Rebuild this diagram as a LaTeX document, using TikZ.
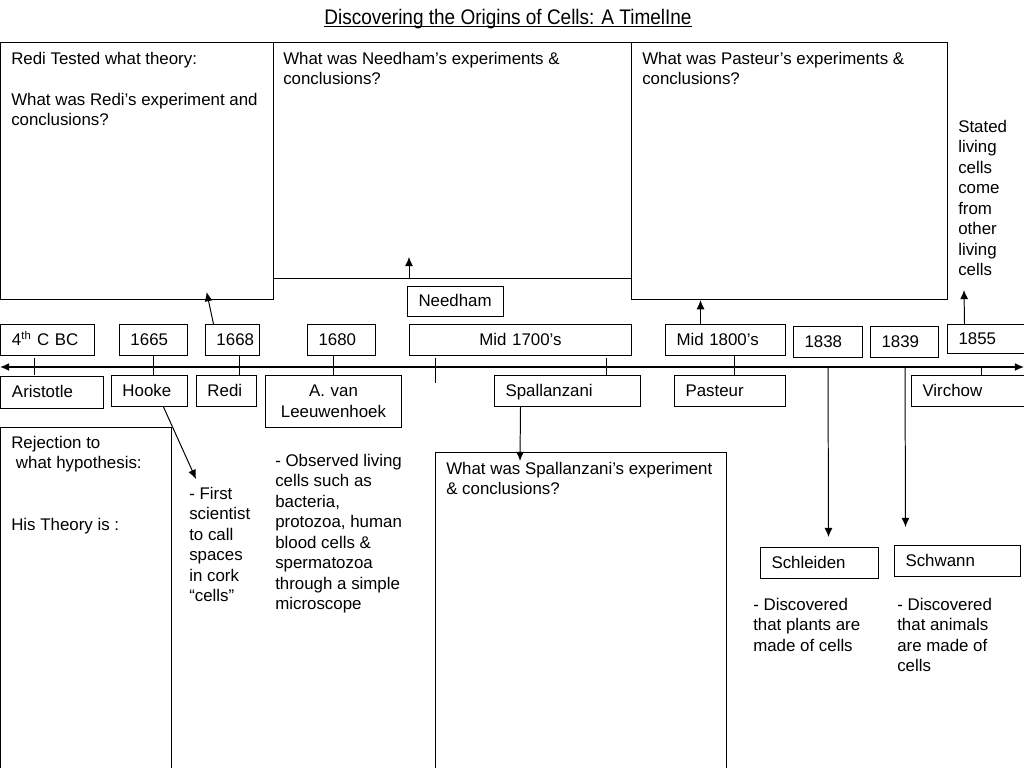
\documentclass[tikz,border=0pt]{standalone}
\usepackage{fontspec}
\setmainfont{Liberation Sans}
\newfontfamily\titlefont[FakeStretch=0.9]{Liberation Sans}
\usepackage{tikz}
\usetikzlibrary{arrows.meta}
\newcommand{\bodyfont}{\fontsize{12}{14.6}\selectfont}
\tikzset{
    boxdraw/.style={draw, line width=0.7pt, font=\bodyfont, anchor=north west, inner ysep=0pt, inner xsep=0.275cm, align=left},
    yearnode/.style={boxdraw, minimum height=0.775cm, text height=0.97em, text depth=0.21em},
    namenode/.style={boxdraw, minimum height=0.775cm, text height=0.97em, text depth=0.21em},
    questionbox/.style={draw, line width=0.7pt, anchor=north west, inner sep=0pt},
    notetext/.style={anchor=north west, inner sep=0pt, align=left, font=\bodyfont},
    linkarrow/.style={-{Latex[length=2.3mm,width=2mm]}, line width=0.7pt},
    timearrow/.style={{Latex[length=2.3mm,width=2mm]}-{Latex[length=2.3mm,width=2mm]}, line width=0.9pt},
    ticksty/.style={line width=0.7pt}
}
\begin{document}
\begin{tikzpicture}[x=0.025cm, y=-0.025cm]
    \useasboundingbox (0,0) rectangle (1024,768);

    % title
    \node[anchor=base, inner sep=0pt, font=\titlefont\fontsize{15}{18}\selectfont] (title) at (508,24.5) {Discovering the Origins of Cells: A TimelIne};
    \draw[line width=0.7pt] ([yshift=-1.6pt]title.base west) -- ([yshift=-1.6pt]title.base east);

    % question boxes
    \node[questionbox, minimum width=6.8cm, minimum height=6.425cm] (rediq) at (0.5,42) {};
    \node[questionbox, minimum width=8.95cm, minimum height=5.9cm] (needq) at (273,42) {};
    \node[questionbox, minimum width=7.9cm, minimum height=6.425cm] (pastq) at (631,42) {};
    \node[questionbox, minimum width=4.26cm, minimum height=8.7cm] (rejq) at (0.5,427) {};
    \node[questionbox, minimum width=7.275cm, minimum height=8.2cm] (spalq) at (435,452) {};

    \node[notetext] (rediqtext) at (11,51.7) {Redi Tested what theory:\\[14.6pt]What was Redi’s experiment and\\conclusions?};
    \node[notetext] (needqtext) at (283,51.7) {What was Needham’s experiments \&\\conclusions?};
    \node[notetext] (pastqtext) at (642,51.7) {What was Pasteur’s experiments \&\\conclusions?};
    \node[notetext] (rejtext) at (11,435.7) {Rejection to\\\ what hypothesis:\\[29.2pt]His Theory is :};
    \node[notetext] (spalqtext) at (446,461.7) {What was Spallanzani’s experiment\\\& conclusions?};
    \node[notetext] (stated) at (958,119.7) {Stated\\living\\cells\\come\\from\\other\\living\\cells};

    % dates above the line
    \node[yearnode, text width=1.775cm] (y4c) at (0.5,324) {4\textsuperscript{th} C BC};
    \node[yearnode, text width=1.15cm] (y1665) at (119,324) {1665};
    \node[yearnode, text width=0.8cm] (y1668) at (205,324) {1668};
    \node[yearnode, text width=1.15cm] (y1680) at (307,324) {1680};
    \node[yearnode, text width=5cm, align=center] (mid17) at (409,324) {Mid 1700’s};
    \node[yearnode, text width=2.45cm] (mid18) at (665,324) {Mid 1800’s};
    \node[yearnode, text width=1.175cm] (y1838) at (793,326) {1838};
    \node[yearnode, text width=1.15cm] (y1839) at (870,326) {1839};
    \node[yearnode, text width=1.375cm, minimum height=0.725cm] (y1855) at (947,324) {1855};
    \node[namenode, text width=1.85cm, minimum height=0.75cm] (needham) at (407,286) {Needham};

    % scientists below the line
    \node[namenode, text width=2cm, minimum height=0.8cm] (aristotle) at (0.5,376) {Aristotle};
    \node[namenode, text width=1.35cm] (hooke) at (111,375) {Hooke};
    \node[namenode, text width=0.95cm] (redi) at (196,375) {Redi};
    \node[boxdraw, text width=2.85cm, align=center, minimum height=1.3cm] (leeuw) at (265,375) {A. van\\Leeuwenhoek};
    \node[namenode, text width=3.1cm] (spall) at (494,375) {Spallanzani};
    \node[namenode, text width=2.225cm] (pasteur) at (674,375) {Pasteur};
    \node[namenode, text width=2.275cm] (virchow) at (911,375) {Virchow};
    \node[namenode, text width=2.4cm] (schleiden) at (760,547) {Schleiden};
    \node[namenode, text width=2.6cm] (schwann) at (894,545) {Schwann};

    \node[notetext] (hookedesc) at (189,486.7) {- First\\scientist\\to call\\spaces\\in cork\\“cells”};
    \node[notetext] (leeudesc) at (275,453.7) {- Observed living\\cells such as\\bacteria,\\protozoa, human\\blood cells \&\\spermatozoa\\through a simple\\microscope};
    \node[notetext] (schldesc) at (753,597.7) {- Discovered\\that plants are\\made of cells};
    \node[notetext] (schwdesc) at (897,597.7) {- Discovered\\that animals\\are made of\\cells};

    % timeline
    \coordinate (tlW) at (0,367);
    \coordinate (tlE) at (1024,367);
    \coordinate (tl1838) at (828,367);
    \coordinate (tl1839) at (905,367);
    \draw[timearrow] (tlW) -- (tlE);
    \foreach \tx/\ta/\tb in {34/358/375, 153/355/375, 239/355/375, 333/355/375, 435/358/383, 606/358/375, 734/355/375, 981/367/375}
        \draw[ticksty] (\tx,\ta) -- (\tx,\tb);

    % arrows
    \coordinate (needtip) at (409,257);
    \coordinate (statedtip) at (964,290);
    \coordinate (hooketip) at (196,479);
    \coordinate (spaltip) at (520,461);
    \draw[linkarrow] ([xshift=-0.475cm]y1668.north) -- ([xshift=1.74cm,yshift=0.2cm]rediq.south);
    \draw[linkarrow] (needtip |- needq.south) -- (needtip);
    \draw[linkarrow] ([xshift=-0.625cm]mid18.north) -- ([xshift=-0.625cm]mid18.north |- pastq.south);
    \draw[linkarrow] ([xshift=-0.5375cm]y1855.north) -- (statedtip);
    \draw[linkarrow] ([xshift=0.35cm]hooke.south) -- (hooketip);
    \draw[linkarrow] ([xshift=-1.175cm]spall.south) -- (spaltip);
    \draw[linkarrow] (tl1838) -- ([xshift=0.225cm,yshift=0.25cm]schleiden.north);
    \draw[linkarrow] (tl1839) -- ([xshift=-1.3cm,yshift=0.45cm]schwann.north);
\end{tikzpicture}
\end{document}
